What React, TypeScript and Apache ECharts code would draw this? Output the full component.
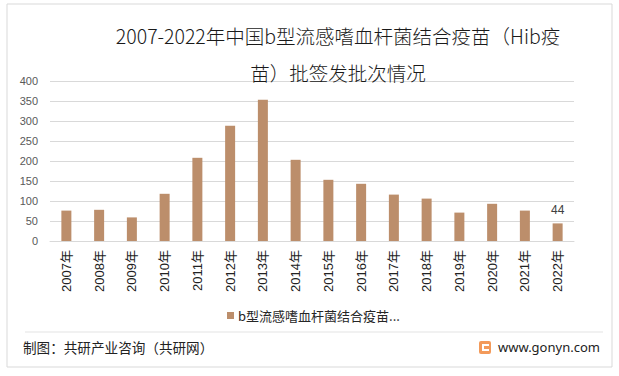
import React, { useEffect, useRef } from "react";
import * as echarts from "echarts";

const titleLines = ["2007-2022年中国b型流感嗜血杆菌结合疫苗（Hib疫", "苗）批签发批次情况"];
const categories = ["2007年", "2008年", "2009年", "2010年", "2011年", "2012年", "2013年", "2014年", "2015年", "2016年", "2017年", "2018年", "2019年", "2020年", "2021年", "2022年"];
const values = [76, 78, 59, 118, 208, 288, 353, 203, 153, 143, 116, 106, 71, 93, 76, 44];
const seriesName = "b型流感嗜血杆菌结合疫苗（Hib疫苗）批签发批次";
const legendShort = "b型流感嗜血杆菌结合疫苗...";
const footerLeft = "制图：共研产业咨询（共研网）";
const footerRight = "www.gonyn.com";

const FONT = "'Noto Sans CJK SC', 'Noto Sans', sans-serif";
const NUMFONT = "'Liberation Sans', 'Noto Sans CJK SC', sans-serif";

export default function App() {
  const ref = useRef<HTMLDivElement>(null);
  useEffect(() => {
    const chart = echarts.init(ref.current!, null, { renderer: "svg" });
    chart.setOption({
      animation: false,
      backgroundColor: "#ffffff",
      title: {
        text: titleLines.join("\n"),
        left: 333,
        top: 12,
        textAlign: "center",
        textStyle: { fontFamily: FONT, fontSize: 19.5, fontWeight: 300, color: "#1a1a1a", lineHeight: 37 },
      },
      grid: { left: 50, right: 45, top: 81, height: 160 },
      legend: {
        data: [{ name: seriesName }],
        left: 222,
        top: 304,
        itemWidth: 7,
        itemHeight: 7,
        itemGap: 4,
        icon: "rect",
        formatter: () => legendShort,
        textStyle: { fontFamily: FONT, fontSize: 13, color: "#262626", padding: [0, 0, 0, -1] },
      },
      xAxis: {
        type: "category",
        data: categories,
        axisLine: { lineStyle: { color: "#D9D9D9" } },
        axisTick: { show: false },
        axisLabel: { rotate: 90, fontFamily: NUMFONT, fontSize: 13, color: "#222", margin: 9, interval: 0 },
      },
      yAxis: {
        type: "value",
        min: 0,
        max: 400,
        interval: 50,
        axisLine: { show: false },
        axisTick: { show: false },
        splitLine: { lineStyle: { color: "#D9D9D9" } },
        axisLabel: { fontFamily: NUMFONT, fontSize: 11, color: "#595959", margin: 12 },
      },
      series: [
        {
          name: seriesName,
          type: "bar",
          data: values.map((v, i) =>
            i === values.length - 1
              ? { value: v, label: { show: true, position: "top", color: "#404040", fontSize: 12, fontFamily: NUMFONT, distance: 7 } }
              : v
          ),
          barWidth: 10,
          itemStyle: { color: "#BC8E6B" },
        },
      ],
      graphic: [
        { type: "rect", shape: { x: 7, y: 4, width: 605, height: 363 }, style: { fill: "none", stroke: "#D9D9D9", lineWidth: 1 }, silent: true },
        { type: "line", shape: { x1: 25, y1: 332, x2: 603, y2: 332 }, style: { stroke: "#E3E3E3", lineWidth: 1 } },
        { type: "text", left: 23, top: 340, style: { text: footerLeft, fontFamily: FONT, fontSize: 13.6, fill: "#222" } },
        { type: "rect", shape: { x: 479, y: 341, width: 12, height: 13, r: 2 }, style: { fill: "#F39A5A" } },
        { type: "rect", shape: { x: 482, y: 344, width: 7, height: 2 }, style: { fill: "#fff" } },
        { type: "rect", shape: { x: 482, y: 346, width: 2, height: 5 }, style: { fill: "#fff" } },
        { type: "rect", shape: { x: 484, y: 349, width: 5, height: 2 }, style: { fill: "#fff" } },
        { type: "text", left: 498, top: 340, style: { text: footerRight, fontFamily: "'Noto Sans', sans-serif", fontSize: 13, fill: "#222" } },
      ],
    });
    return () => chart.dispose();
  }, []);
  return <div ref={ref} style={{ position: "fixed", left: 0, top: 0, width: 619, height: 376 }} />;
}
